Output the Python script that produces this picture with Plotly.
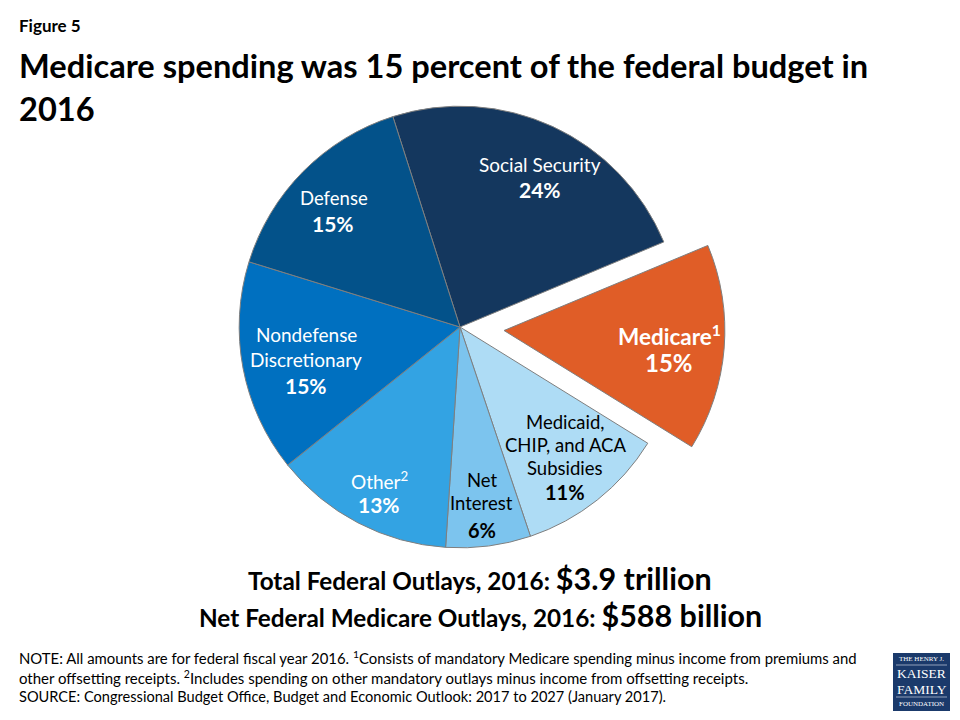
import plotly.graph_objects as go

W, H = 960, 720
categories = ["Social Security", "Medicare", "Medicaid, CHIP, and ACA Subsidies", "Net Interest",
              "Other", "Nondefense Discretionary", "Defense"]
shares = [23.6, 15.1, 11.0, 6.2, 13.2, 15.5, 15.3]
percent_labels = ["24%", "15%", "11%", "6%", "13%", "15%", "15%"]
colors = ["#14375E", "#E05D27", "#AEDCF5", "#7CC4EE", "#33A3E3", "#0070C0", "#03528A"]
pulls = [0, 0.2, 0, 0, 0, 0, 0]

fig = go.Figure(go.Pie(
    labels=categories, values=shares, sort=False, direction="clockwise", rotation=-17.7,
    pull=pulls, textinfo="none", hoverinfo="label+percent", showlegend=False,
    marker=dict(colors=colors, line=dict(color="#7F7F7F", width=1)),
    domain=dict(x=[195/W, 725/W], y=[1-592/H, 1-62/H]),
))

FONT = "Lato"
def txt(x, y, s, size, color="#000000", bold=False, anchor="center"):
    if bold:
        s = "<b>" + s + "</b>"
    fig.add_annotation(x=x/W, y=1-y/H, xref="paper", yref="paper", text=s, showarrow=False,
                       xanchor=anchor, yanchor="middle", align=anchor,
                       font=dict(family=FONT, size=size, color=color), borderpad=0, borderwidth=0)

txt(19, 26, "Figure 5", 17, bold=True, anchor="left")
txt(19, 65, "Medicare spending was 15 percent of the federal budget in", 32.6, bold=True, anchor="left")
txt(19, 108, "2016", 32.6, bold=True, anchor="left")

W_ = "#FFFFFF"
txt(540, 165, "Social Security", 19, W_)
txt(540, 190, percent_labels[0], 21, W_, True)
txt(669, 335, "Medicare<sup>1</sup>", 22.5, W_, True)
txt(669, 362, percent_labels[1], 24, W_, True)
txt(565, 422, "Medicaid,", 18.5)
txt(565, 445, "CHIP, and ACA", 18.5)
txt(565, 468, "Subsidies", 18.5)
txt(565, 492, percent_labels[2], 20, bold=True)
txt(482, 480, "Net", 18.5)
txt(481, 503, "Interest", 18.5)
txt(482, 530, percent_labels[3], 20, bold=True)
txt(379, 480, "Other<sup>2</sup>", 19, W_)
txt(379, 505, percent_labels[4], 21, W_, True)
txt(306, 334, "Nondefense", 19, W_)
txt(306, 359, "Discretionary", 19, W_)
txt(306, 385, percent_labels[5], 21, W_, True)
txt(334, 198, "Defense", 18.5, W_)
txt(333, 223, percent_labels[6], 21, W_, True)

txt(479.5, 578, '<b>Total Federal Outlays, 2016: <span style="font-size:30.5px">$3.9 trillion</span></b>', 24.3)
txt(480.5, 615, '<b>Net Federal Medicare Outlays, 2016: <span style="font-size:30.5px">$588 billion</span></b>', 24.3)

txt(19, 657, "NOTE: All amounts are for federal fiscal year 2016. <sup>1</sup>Consists of mandatory Medicare spending minus income from premiums and", 14.9, anchor="left")
txt(19, 677, "other offsetting receipts. <sup>2</sup>Includes spending on other mandatory outlays minus income from offsetting receipts.", 15, anchor="left")
txt(19, 696, "SOURCE: Congressional Budget Office, Budget and Economic Outlook: 2017 to 2027 (January 2017).", 14.6, anchor="left")

fig.add_shape(type="rect", xref="paper", yref="paper", x0=893/W, x1=950/W, y0=1-711/H, y1=1-653/H,
              fillcolor="#1B3A6B", line=dict(width=0))
for yy in (665, 697):
    fig.add_shape(type="line", xref="paper", yref="paper", x0=896/W, x1=947/W, y0=1-yy/H, y1=1-yy/H,
                  line=dict(color="#C5CFDE", width=0.7))
LOGO = "Liberation Serif"
for yy, s, sz in [(659, "THE HENRY J.", 7), (673.5, "KAISER", 13.5), (689, "FAMILY", 13.5), (704, "FOUNDATION", 7)]:
    fig.add_annotation(x=921.5/W, y=1-yy/H, xref="paper", yref="paper", text=s, showarrow=False,
                       xanchor="center", yanchor="middle", font=dict(family=LOGO, size=sz, color="#FFFFFF"),
                       borderpad=0)

fig.update_layout(width=W, height=H, margin=dict(l=0, r=0, t=0, b=0), paper_bgcolor="#FFFFFF",
                  plot_bgcolor="#FFFFFF", font=dict(family=FONT))
fig.write_html("out.html", post_script="document.body.style.margin='0';",
               config=dict(displayModeBar=False))
